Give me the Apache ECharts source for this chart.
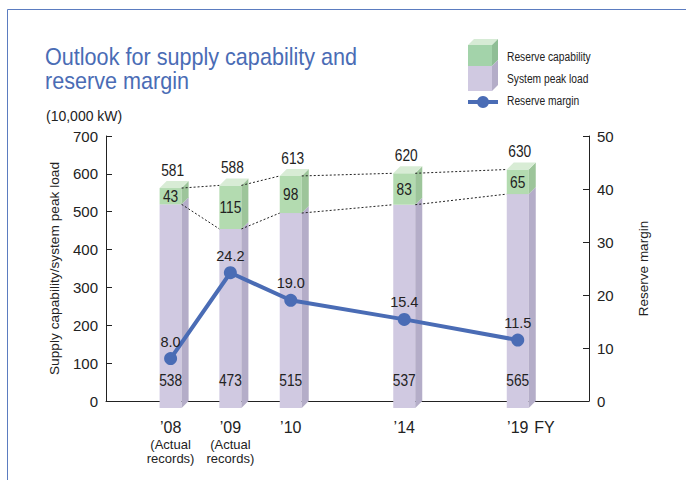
<!DOCTYPE html>
<html>
<head>
<meta charset="utf-8">
<script src="https://cdn.jsdelivr.net/npm/echarts@6/dist/echarts.min.js"></script>
<style>
  html, body { margin: 0; padding: 0; background: #fff; }
  #chart { width: 686px; height: 480px; }
</style>
</head>
<body>
<div id="chart"></div>
<script>
"use strict";

// data
const years = ['’08', '’09', '’10', '’14', '’19'];
const yearNotes = ['(Actual\nrecords)', '(Actual\nrecords)', '', '', ''];
const peakLoad = [538, 473, 515, 537, 565];
const reserveCap = [43, 115, 98, 83, 65];
const supplyCap = [581, 588, 613, 620, 630];
const reserveMargin = [8.0, 24.2, 19.0, 15.4, 11.5];

// layout: the years are not evenly spaced in the original
const slotPos = [1.07, 2.06, 3.06, 4.94, 6.82];

const SANS = '"Liberation Sans", Arial, sans-serif';
const BLUE = '#4a6cb5';
const INK = '#222';
const D = 7;      // depth of the fake 3d
const HALF = 11;  // half width of the front face
const NARROW = 0.86; // no condensed face installed, so squeeze the text

const colors = {
  purple: '#d0c9e1', purpleSide: '#b4adc8',
  green: '#b3dbb0', greenSide: '#9dc59a', greenTop: '#d8ecd5'
};

const chart = echarts.init(document.getElementById('chart'), null, { renderer: 'svg' });

function barShape(api, color, side, top) {
  const x = api.value(0);
  const pLo = api.coord([x, api.value(1)]);
  const pHi = api.coord([x, api.value(2)]);
  const l = pLo[0] - HALF, r = pLo[0] + HALF;
  const yT = pHi[1] + D, yB = pLo[1] + D;
  const kids = [
    { type: 'rect', shape: { x: l, y: yT, width: r - l, height: yB - yT }, style: { fill: color } },
    { type: 'polygon', shape: { points: [[r, yT], [r + D, yT - D], [r + D, yB - D], [r, yB]] }, style: { fill: side } }
  ];
  if (top) {
    kids.push({ type: 'polygon', shape: { points: [[l, yT], [l + D, yT - D], [r + D, yT - D], [r, yT]] }, style: { fill: top } });
  }
  return { pLo, pHi, l, r, yT, yB, kids };
}

// bar value text, centred on x,y
function valueText(text, x, y) {
  return {
    type: 'text', x: x, y: y, scaleX: NARROW,
    style: { text: text, fontFamily: SANS, fontSize: 16, fill: INK, align: 'center', verticalAlign: 'middle' }
  };
}

function legendText(y, text) {
  return {
    type: 'text', x: 507, y: y, scaleX: 0.82,
    style: { text: text, fontFamily: SANS, fontSize: 12.5, fill: INK, verticalAlign: 'middle' }
  };
}

const option = {
  animation: false,
  title: {
    text: '(10,000 kW)',
    left: 46, top: 109, padding: 0,
    textStyle: { fontFamily: SANS, fontSize: 14, fontWeight: 'normal', color: INK }
  },
  grid: { left: 106, right: 97, top: 136, bottom: 79 },
  xAxis: {
    type: 'value', min: 0, max: 8,
    name: 'FY', nameLocation: 'end', nameGap: -55,
    nameTextStyle: { fontFamily: SANS, fontSize: 16, color: INK, align: 'left', verticalAlign: 'top', lineHeight: 52 },
    axisLine: { lineStyle: { color: INK, width: 1 } },
    axisTick: { show: false },
    splitLine: { show: false },
    axisLabel: {
      customValues: slotPos,
      margin: 16,
      formatter: function (v) {
        const i = slotPos.indexOf(v);
        if (i < 0) return '';
        let s = '{yr|' + years[i] + '}';
        if (yearNotes[i]) s += '\n' + yearNotes[i].split('\n').map(t => '{note|' + t + '}').join('\n');
        return s;
      },
      rich: {
        yr: { fontFamily: SANS, fontSize: 16, lineHeight: 20, color: INK },
        note: { fontFamily: SANS, fontSize: 13, lineHeight: 14, color: INK }
      }
    }
  },
  yAxis: [
    {
      type: 'value', min: 0, max: 700, interval: 100,
      name: 'Supply capability/system peak load', nameLocation: 'middle', nameGap: 45,
      nameTextStyle: { fontFamily: SANS, fontSize: 13.7, color: INK },
      axisLine: { show: true, lineStyle: { color: INK } },
      axisTick: { show: true, inside: true, length: 6, lineStyle: { color: INK } },
      axisLabel: { fontFamily: SANS, fontSize: 15, color: INK, margin: 8 },
      splitLine: { show: false }
    },
    {
      type: 'value', min: 0, max: 50, interval: 10,
      name: 'Reserve margin', nameLocation: 'middle', nameGap: 47,
      nameTextStyle: { fontFamily: SANS, fontSize: 13.5, color: INK },
      axisLine: { show: true, lineStyle: { color: INK } },
      axisTick: { show: true, inside: true, length: 6, lineStyle: { color: INK } },
      axisLabel: { fontFamily: SANS, fontSize: 15, color: INK, margin: 8 },
      splitLine: { show: false }
    }
  ],
  series: [
    {
      name: 'System peak load',
      type: 'custom',
      encode: { x: 0, y: [1, 2] },
      data: peakLoad.map((v, i) => [slotPos[i], 0, v]),
      renderItem: function (params, api) {
        const b = barShape(api, colors.purple, colors.purpleSide, null);
        b.kids.push(valueText(String(api.value(2)), b.pLo[0], b.yB - 28));
        return { type: 'group', children: b.kids };
      }
    },
    {
      name: 'Reserve capability',
      type: 'custom',
      encode: { x: 0, y: [1, 2] },
      data: reserveCap.map((v, i) => [slotPos[i], peakLoad[i], peakLoad[i] + v]),
      renderItem: function (params, api) {
        const i = params.dataIndex;
        const b = barShape(api, colors.green, colors.greenSide, colors.greenTop);
        b.kids.push(valueText(String(reserveCap[i]), b.pLo[0], (b.yT + b.yB) / 2));
        b.kids.push(valueText(String(supplyCap[i]), b.pLo[0] + 2, b.pHi[1] - 11));
        if (i < peakLoad.length - 1) {
          const nHi = api.coord([slotPos[i + 1], supplyCap[i + 1]]);
          const nLo = api.coord([slotPos[i + 1], peakLoad[i + 1]]);
          const dash = { stroke: INK, lineWidth: 1, lineDash: [2, 2] };
          b.kids.push({ type: 'line', shape: { x1: b.r, y1: b.yT, x2: nHi[0] - HALF, y2: nHi[1] + D }, style: dash });
          b.kids.push({ type: 'line', shape: { x1: b.r, y1: b.yB, x2: nLo[0] - HALF, y2: nLo[1] + D }, style: dash });
        }
        return { type: 'group', children: b.kids };
      }
    },
    {
      name: 'Reserve margin',
      type: 'line',
      yAxisIndex: 1,
      data: reserveMargin.map((v, i) => [slotPos[i], v]),
      symbol: 'circle', symbolSize: 13,
      lineStyle: { color: BLUE, width: 4 },
      itemStyle: { color: BLUE },
      label: {
        show: true, position: 'top', distance: 3,
        fontFamily: SANS, fontSize: 14.5, color: INK,
        formatter: p => p.value[1].toFixed(1)
      }
    }
  ],
  graphic: [
    // frame
    { type: 'polyline', shape: { points: [[7.5, 480], [7.5, 9.5], [686, 9.5]] }, style: { fill: null, stroke: '#5b7cc0', lineWidth: 1 } },
    // heading
    {
      type: 'text', x: 45, y: 45, scaleX: 0.9,
      style: {
        text: 'Outlook for supply capability and\nreserve margin',
        fontFamily: SANS, fontSize: 24, lineHeight: 24, fill: BLUE, verticalAlign: 'top'
      }
    },
    // legend
    { type: 'polygon', shape: { points: [[468, 45], [474, 39], [498, 39], [492, 45]] }, style: { fill: '#d6ebd5' } },
    { type: 'rect', shape: { x: 468, y: 45, width: 24, height: 21 }, style: { fill: '#a3d3aa' } },
    { type: 'polygon', shape: { points: [[492, 45], [498, 39], [498, 60], [492, 66]] }, style: { fill: '#8fbe95' } },
    { type: 'rect', shape: { x: 468, y: 66, width: 24, height: 25 }, style: { fill: colors.purple } },
    { type: 'polygon', shape: { points: [[492, 66], [498, 60], [498, 85], [492, 91]] }, style: { fill: colors.purpleSide } },
    { type: 'line', shape: { x1: 468, y1: 102, x2: 498, y2: 102 }, style: { stroke: BLUE, lineWidth: 4 } },
    { type: 'circle', shape: { cx: 483, cy: 102, r: 6 }, style: { fill: BLUE } },
    legendText(57, 'Reserve capability'),
    legendText(79, 'System peak load'),
    legendText(101, 'Reserve margin')
  ]
};

chart.setOption(option);
</script>
</body>
</html>
